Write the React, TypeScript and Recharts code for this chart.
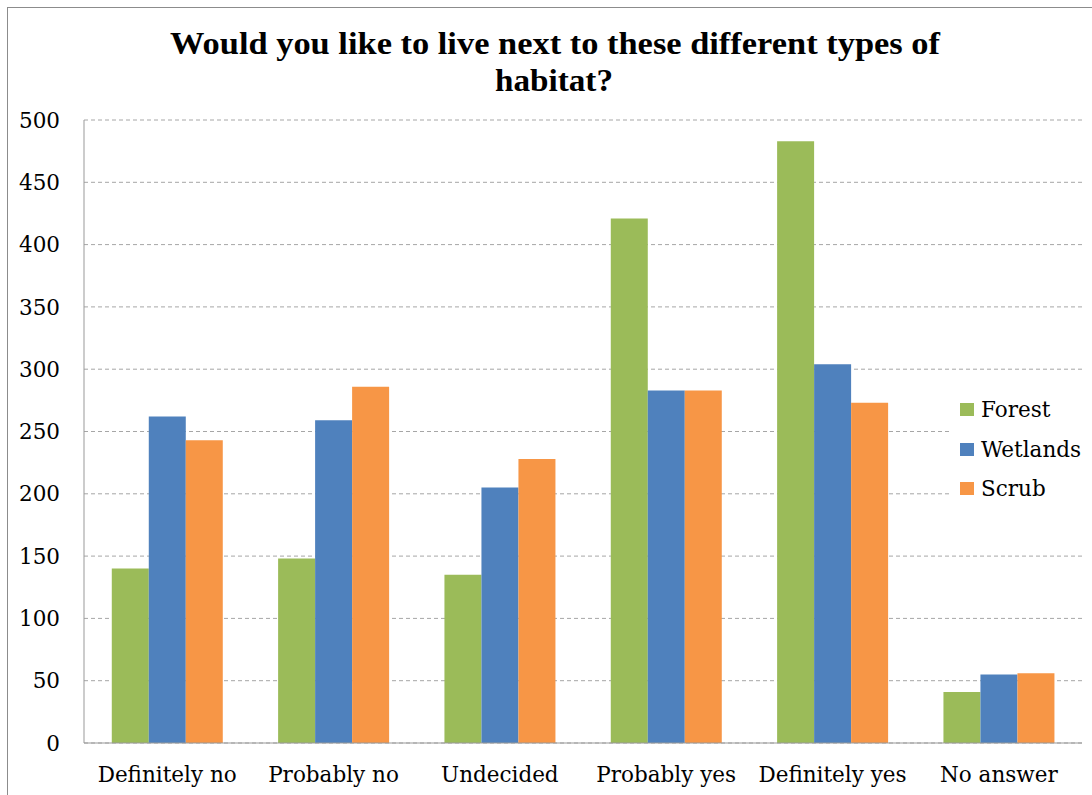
import React from "react";
import { BarChart, Bar, XAxis, YAxis, CartesianGrid, Legend } from "recharts";

const categories = ["Definitely no", "Probably no", "Undecided", "Probably yes", "Definitely yes", "No answer"];
const forest = [140, 148, 135, 421, 483, 41];
const wetlands = [262, 259, 205, 283, 304, 55];
const scrub = [243, 286, 228, 283, 273, 56];
const yTicks = [0, 50, 100, 150, 200, 250, 300, 350, 400, 450, 500];
const boundaryTicks = [0, 1, 2, 3, 4, 5, 6];

const seriesNames = ["Forest", "Wetlands", "Scrub"];
const seriesColors = ["#9BBB59", "#4F81BD", "#F79646"];

const data = categories.map((c, i) => ({
  name: c,
  Forest: forest[i],
  Wetlands: wetlands[i],
  Scrub: scrub[i],
}));

const FONT = "'DejaVu Serif', serif";

const LegendContent = () => (
  <div style={{ fontFamily: FONT, fontSize: 21.5, color: "#000", padding: "10px 0 0 10px" }}>
    {seriesNames.map((n, i) => (
      <div key={n} style={{ display: "flex", alignItems: "center", height: 39.5 }}>
        <div style={{ width: 14, height: 13, background: seriesColors[i], marginRight: 7 }} />
        <span>{n}</span>
      </div>
    ))}
  </div>
);

export default function App() {
  return (
    <div
      style={{
        position: "fixed",
        left: 7,
        top: 7,
        width: 1090,
        height: 800,
        borderLeft: "1px solid #8c8c8c",
        borderTop: "1px solid #8c8c8c",
        background: "#fff",
      }}
    >
      <svg width={1084} height={100} style={{ position: "absolute", left: 0, top: 0 }}>
        <text
          x={547}
          y={46}
          textAnchor="middle"
          fontFamily="'Liberation Serif', serif"
          fontWeight="bold"
          fontSize={31}
          textLength={770}
          lengthAdjust="spacingAndGlyphs"
        >
          Would you like to live next to these different types of
        </text>
        <text
          x={546}
          y={83}
          textAnchor="middle"
          fontFamily="'Liberation Serif', serif"
          fontWeight="bold"
          fontSize={31}
          textLength={118}
          lengthAdjust="spacingAndGlyphs"
        >
          habitat?
        </text>
      </svg>
      <div style={{ position: "absolute", left: 0, top: 0 }}>
        <BarChart
          width={1084}
          height={787}
          data={data}
          margin={{ top: 112, right: 10, left: 0, bottom: 12 }}
          barCategoryGap="16.7%"
          barGap={0}
        >
          <CartesianGrid vertical={false} stroke="#a6a6a6" strokeDasharray="4 3" />
          <XAxis
            xAxisId="bounds"
            type="number"
            domain={[0, 6]}
            ticks={boundaryTicks}
            height={0}
            mirror
            tick={false}
            tickSize={8}
            tickLine={{ stroke: "#999" }}
            axisLine={false}
          />
          <XAxis
            dataKey="name"
            height={40}
            tickLine={false}
            axisLine={{ stroke: "#999" }}
            tickMargin={18}
            interval={0}
            tick={{ fill: "#000", fontFamily: FONT, fontSize: 21.5 }}
          />
          <YAxis
            width={76}
            domain={[0, 500]}
            ticks={yTicks}
            tickLine={false}
            axisLine={{ stroke: "#999" }}
            tickMargin={18}
            tick={{ fill: "#000", fontFamily: FONT, fontSize: 21.5 }}
          />
          <Legend
            layout="horizontal"
            verticalAlign="middle"
            content={<LegendContent />}
            wrapperStyle={{ position: "absolute", left: 942, top: 372, width: 132, height: 140, background: "#fff" }}
          />
          {seriesNames.map((n, i) => (
            <Bar key={n} dataKey={n} fill={seriesColors[i]} isAnimationActive={false} />
          ))}
        </BarChart>
      </div>
    </div>
  );
}
